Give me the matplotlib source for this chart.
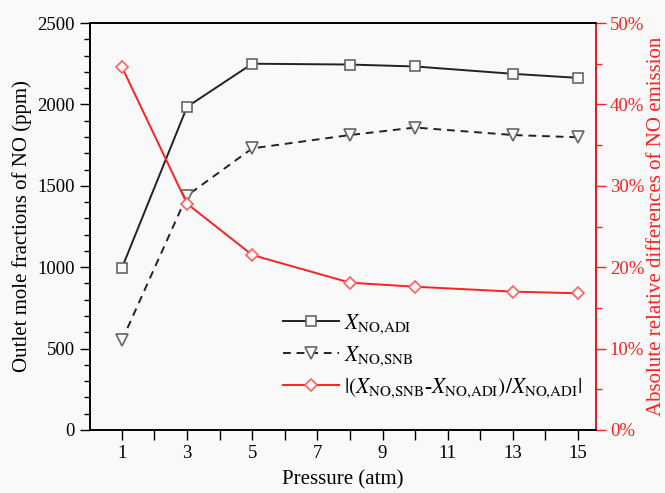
import matplotlib
matplotlib.use('Agg')
import matplotlib.pyplot as plt
from matplotlib.ticker import MultipleLocator, FixedLocator, FuncFormatter

pressure = [1, 3, 5, 8, 10, 13, 15]
x_adi = [995, 1985, 2250, 2245, 2233, 2188, 2163]
x_snb = [550, 1440, 1730, 1812, 1858, 1812, 1798]
rel_diff = [44.6, 27.8, 21.5, 18.1, 17.6, 17.0, 16.8]

plt.rcParams['font.family'] = ['Liberation Serif', 'DejaVu Serif']
plt.rcParams['mathtext.fontset'] = 'stix'

bg = '#f9f9f9'
fig = plt.figure(figsize=(6.65, 4.93), dpi=100, facecolor=bg)
ax = fig.add_axes([0.1353, 0.1278, 0.7609, 0.8255], facecolor=bg)
ax2 = ax.twinx()

l1, = ax.plot(pressure, x_adi, color='#222222', lw=1.4, marker='s', ms=7,
              mfc=bg, mec='#666666', mew=1.2, label=r'$X_{\mathrm{NO{,}ADI}}$')
l2, = ax.plot(pressure, x_snb, color='#222222', lw=1.4, ls=(0, (4, 3)), marker='v', ms=8,
              mfc=bg, mec='#666666', mew=1.2, label=r'$X_{\mathrm{NO{,}SNB}}$')
l3, = ax2.plot(pressure, rel_diff, color='#ff2020', lw=1.4, marker='D', ms=6.5,
               mfc=bg, mec='#ff6060', mew=1.2,
               label=r'$|(X_{\mathrm{NO{,}SNB}}$-$X_{\mathrm{NO{,}ADI}})/X_{\mathrm{NO{,}ADI}}|$')

ax.set_xlim(0.02, 15.55)
ax.set_ylim(0, 2500)
ax2.set_ylim(0, 50)

ax.xaxis.set_major_locator(FixedLocator([1, 3, 5, 7, 9, 11, 13, 15]))
ax.xaxis.set_minor_locator(FixedLocator([2, 4, 6, 8, 10, 12, 14]))
ax.yaxis.set_major_locator(MultipleLocator(500))
ax.yaxis.set_minor_locator(MultipleLocator(100))
ax2.yaxis.set_major_locator(MultipleLocator(10))
ax2.yaxis.set_minor_locator(MultipleLocator(5))
ax2.yaxis.set_major_formatter(FuncFormatter(lambda v, p: f'{v:.0f}%'))

ax.tick_params(axis='both', which='major', direction='out', length=7, width=1,
               labelsize=13.5, pad=4)
ax.tick_params(axis='both', which='minor', direction='out', length=4, width=1)
ax.tick_params(axis='x', which='minor', length=7)
ax2.tick_params(axis='y', which='major', direction='out', length=7, width=1,
                labelsize=13.5, colors='#ff2020', pad=3)
ax2.tick_params(axis='y', which='minor', direction='out', length=4, width=1,
                colors='#ff2020')

for s in ax.spines.values():
    s.set_linewidth(1.2)
for s in ax2.spines.values():
    s.set_linewidth(1.2)
ax2.spines['right'].set_color('#ff2020')

ax.set_xlabel('Pressure (atm)', fontsize=15, labelpad=6)
ax.set_ylabel('Outlet mole fractions of NO (ppm)', fontsize=15, labelpad=4)
ax2.set_ylabel('Absolute relative differences of NO emission', fontsize=15,
               color='#ff2020', labelpad=2)

ax2.legend(handles=[l1, l2, l3], loc='center left', bbox_to_anchor=(0.381, 0.182),
           frameon=False, fontsize=15.5, handlelength=2.6, handletextpad=0.25,
           labelspacing=0.4, borderpad=0, borderaxespad=0)

fig.savefig('out.png', dpi=100, facecolor=bg)
